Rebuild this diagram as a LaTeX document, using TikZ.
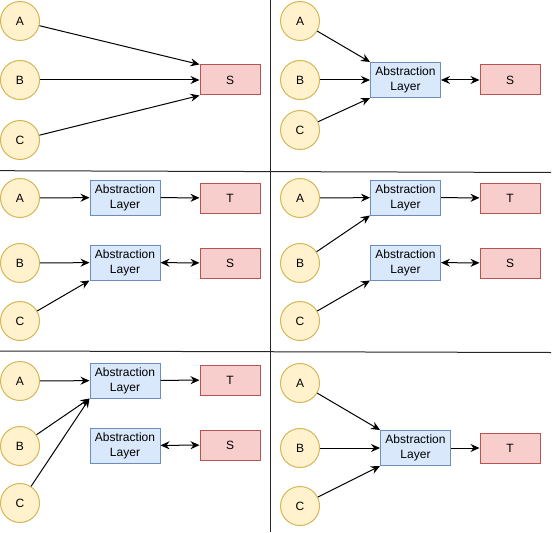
\documentclass[tikz,border=0pt]{standalone}
\usepackage{fontspec}
\setmainfont{Liberation Sans}
\usetikzlibrary{arrows.meta}

\definecolor{srcfill}{HTML}{FFF2CC}
\definecolor{srcline}{HTML}{D6B656}
\definecolor{layfill}{HTML}{DAE8FC}
\definecolor{layline}{HTML}{6C8EBF}
\definecolor{endfill}{HTML}{F8CECC}
\definecolor{endline}{HTML}{B85450}

\begin{document}
\begin{tikzpicture}[x=1pt,y=-1pt,>={Stealth[length=9pt,width=8pt,inset=3pt]},line width=1pt,
  src/.style={circle,draw=srcline,fill=srcfill,minimum size=39pt,inner sep=0pt,font=\fontsize{12}{14}\selectfont},
  layer/.style={rectangle,draw=layline,fill=layfill,minimum width=70pt,minimum height=35pt,inner sep=0pt,align=center,font=\fontsize{12}{15}\selectfont},
  sink/.style={rectangle,draw=endline,fill=endfill,minimum width=60pt,minimum height=30pt,inner sep=0pt,font=\fontsize{12}{14}\selectfont},
  split/.style={draw=black!85,line width=1pt}]

\useasboundingbox (0,0) rectangle (553,532);

\draw[split] (270.5,0) -- (270.5,532);
\draw[split] (0,170.7) -- (551,172.5);
\draw[split] (0,351) -- (551,352.5);

\node[src]   (a1) at (20,21)  {A};
\node[src]   (b1) at (20,80)  {B};
\node[src]   (c1) at (20,140) {C};
\node[sink]  (s1) at (230,80) {S};

\node[src]   (a2) at (300,21)  {A};
\node[src]   (b2) at (300,80)  {B};
\node[src]   (c2) at (300,130) {C};
\node[layer] (l2) at (405.5,80) {Abstraction\\Layer};
\node[sink]  (s2) at (510,80) {S};

\node[src]   (a3) at (20,198) {A};
\node[src]   (b3) at (20,263) {B};
\node[src]   (c3) at (20,321) {C};
\node[layer] (l3) at (125,197.5) {Abstraction\\Layer};
\node[sink]  (t3) at (230,198) {T};
\node[layer] (m3) at (125,262.5) {Abstraction\\Layer};
\node[sink]  (s3) at (230,263) {S};

\node[src]   (a4) at (300,198) {A};
\node[src]   (b4) at (300,263) {B};
\node[src]   (c4) at (300,321) {C};
\node[layer] (l4) at (405.5,197.5) {Abstraction\\Layer};
\node[sink]  (t4) at (510,198) {T};
\node[layer] (m4) at (405.5,262.5) {Abstraction\\Layer};
\node[sink]  (s4) at (510,263) {S};

\node[src]   (a5) at (20,381) {A};
\node[src]   (b5) at (20,446) {B};
\node[src]   (c5) at (20,503) {C};
\node[layer] (l5) at (125,380.5) {Abstraction\\Layer};
\node[sink]  (t5) at (230,380) {T};
\node[layer] (m5) at (125,445.5) {Abstraction\\Layer};
\node[sink]  (s5) at (230,445) {S};

\node[src]   (a6) at (300,383) {A};
\node[src]   (b6) at (300,448) {B};
\node[src]   (c6) at (300,506) {C};
\node[layer] (l6) at (415.5,448) {Abstraction\\Layer};
\node[sink]  (t6) at (510,448) {T};

\path[->] (a1) edge (s1.north west)
          (b1) edge (s1)
          (c1) edge (s1.south west)

          (a2) edge (l2.north west)
          (b2) edge (l2)
          (c2) edge (l2.south west)
          (l2) edge[<->] (s2)

          (a3) edge (l3)
          (l3) edge (t3)
          (b3) edge (m3)
          (c3) edge (m3.south west)
          (m3) edge[<->] (s3)

          (a4) edge (l4)
          (b4) edge (l4.south west)
          (l4) edge (t4)
          (c4) edge (m4.south west)
          (m4) edge[<->] (s4)

          (a5) edge (l5)
          (b5) edge (l5.south west)
          (c5) edge (l5.south west)
          (l5) edge (t5)
          (m5) edge[<->] (s5)

          (a6) edge (l6.north west)
          (b6) edge (l6)
          (c6) edge (l6.south west)
          (l6) edge (t6);

\end{tikzpicture}
\end{document}
